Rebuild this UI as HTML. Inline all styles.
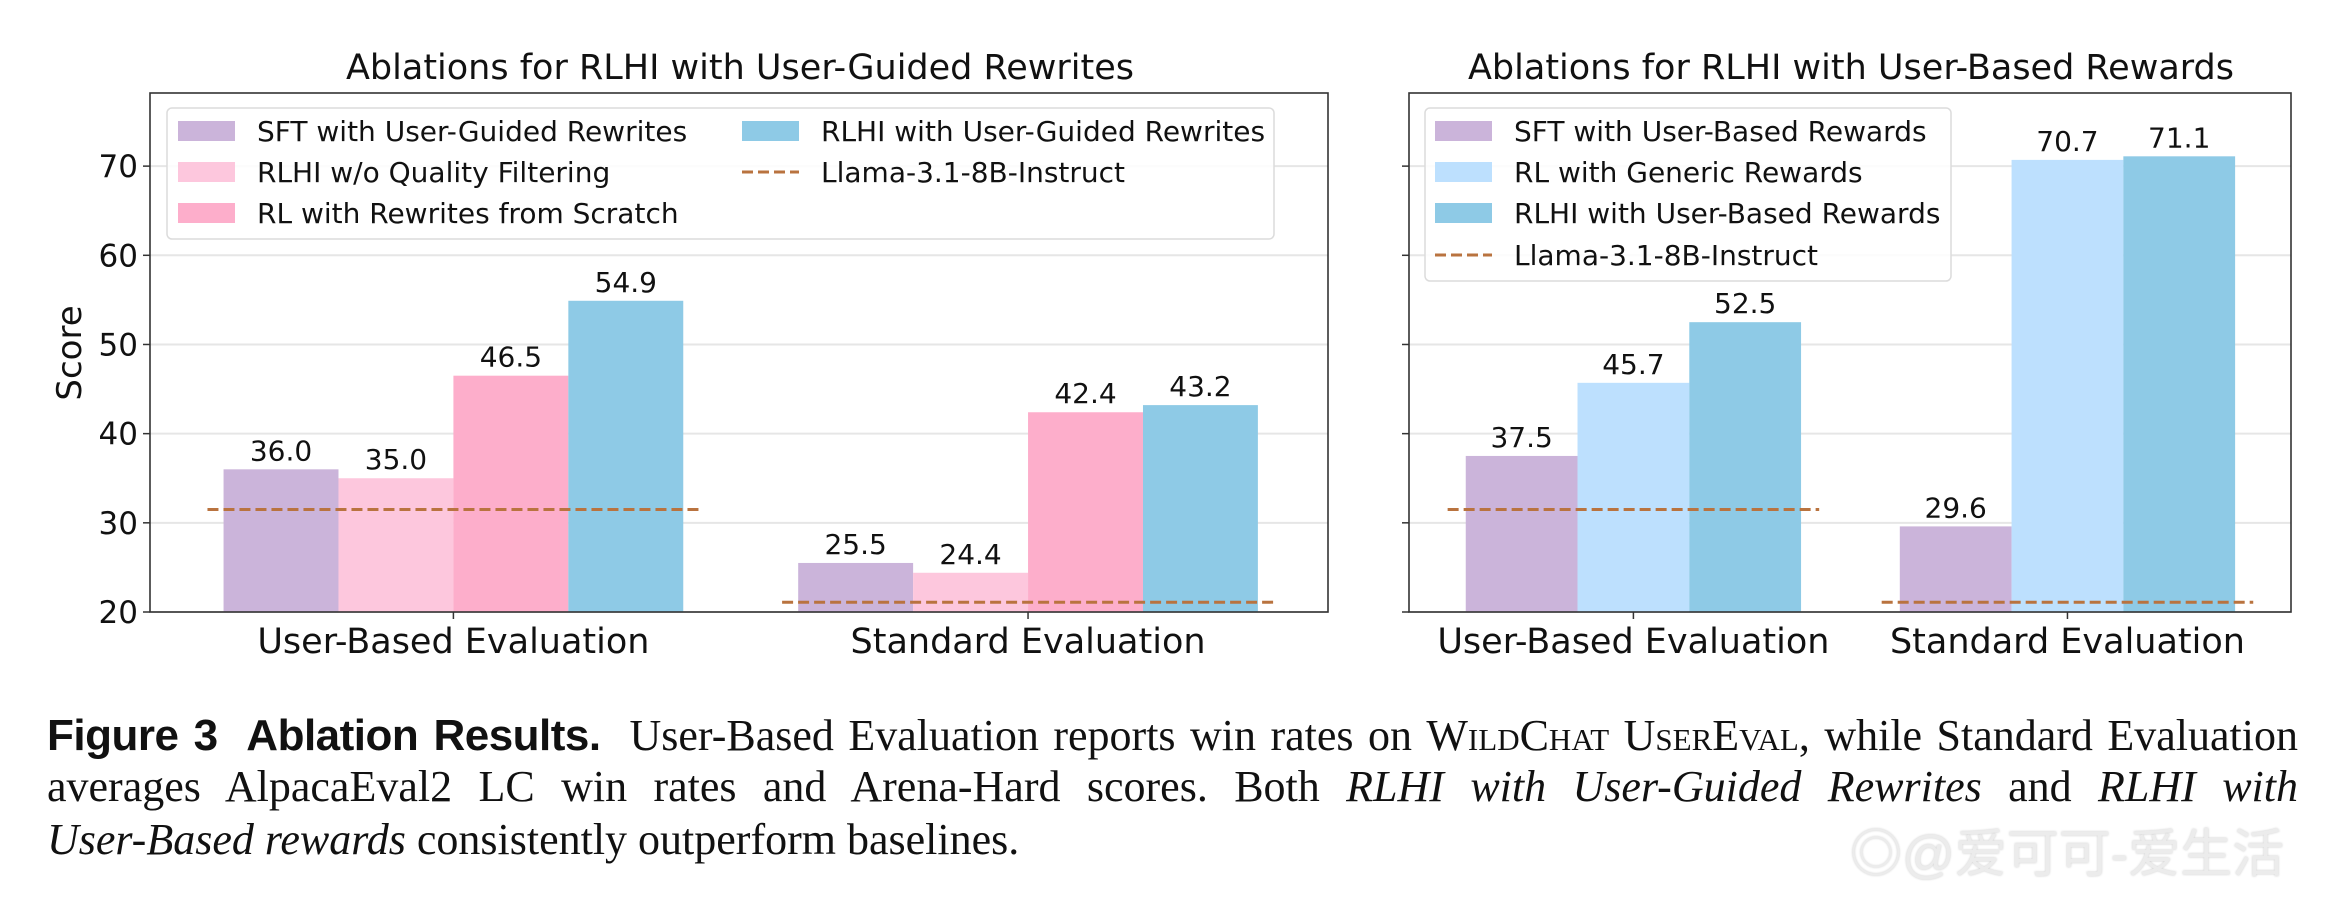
<!DOCTYPE html>
<html><head><meta charset="utf-8"><style>
body{margin:0;background:#fff;width:2350px;height:906px;overflow:hidden;position:relative}
svg text{font-family:"DejaVu Sans","Liberation Sans",sans-serif;fill:#111}
.cap{position:absolute;left:47px;width:2251px;font-family:"Liberation Serif",serif;font-size:44px;line-height:52px;color:#111;white-space:nowrap}
.j{text-align:justify;text-align-last:justify;white-space:normal}
.cap b{font-family:"Liberation Sans",sans-serif;font-weight:bold;letter-spacing:-0.5px;font-size:44px}
.sc{font-variant:small-caps}
#wm{position:absolute;left:1850px;top:812px;font-family:"Liberation Sans","Noto Sans CJK SC",sans-serif;font-size:52px;color:#ececec;text-shadow:0 0 2px #c8c8c8}
</style></head><body>
<svg id="chart" width="2350" height="700" viewBox="0 0 2350 700" xmlns="http://www.w3.org/2000/svg" style="position:absolute;left:0;top:0"></svg>
<div>
<div class="cap j" style="top:710px"><b>Figure 3&nbsp; Ablation Results.</b>&nbsp; User-Based Evaluation reports win rates on <span class="sc">WildChat UserEval</span>, while Standard Evaluation</div>
<div class="cap j" style="top:761px">averages AlpacaEval2 LC win rates and Arena-Hard scores. Both <i>RLHI with User-Guided Rewrites</i> and <i>RLHI with</i></div>
<div class="cap" style="top:814px"><i>User-Based rewards</i> consistently outperform baselines.</div>
</div>
<div id="wm">◎@爱可可-爱生活</div>
<script>
const categories = ["User-Based Evaluation", "Standard Evaluation"];
const leftSeriesNames = ["SFT with User-Guided Rewrites", "RLHI w/o Quality Filtering", "RL with Rewrites from Scratch", "RLHI with User-Guided Rewrites"];
const leftSFT = [36.0, 25.5];
const leftNoFilter = [35.0, 24.4];
const leftScratch = [46.5, 42.4];
const leftRLHI = [54.9, 43.2];
const leftBaseline = [31.5, 21.1];
const rightSeriesNames = ["SFT with User-Based Rewards", "RL with Generic Rewards", "RLHI with User-Based Rewards"];
const rightSFT = [37.5, 29.6];
const rightGeneric = [45.7, 70.7];
const rightRLHI = [52.5, 71.1];
const rightBaseline = [31.5, 21.1];
const yTicks = [20, 30, 40, 50, 60, 70];
const baselineName = "Llama-3.1-8B-Instruct";

const NS = "http://www.w3.org/2000/svg";
const svg = document.getElementById("chart");
function mk(tag, attrs, parent, txt){
  const e = document.createElementNS(NS, tag);
  for (const k in attrs) e.setAttribute(k, attrs[k]);
  if (txt !== undefined) e.textContent = txt;
  (parent || svg).appendChild(e);
  return e;
}
const DASH = "#b9733f";

function panel(cfg){
  const g = mk("g", {});
  
  
  const y = v => cfg.bottom - (v - 20) / (78.2 - 20) * (cfg.bottom - cfg.top);
  const x = v => cfg.left + (v - cfg.xmin) / (cfg.xmax - cfg.xmin) * (cfg.right - cfg.left);
  yTicks.forEach(t => {
    const gl = mk("line", {x1: cfg.left, x2: cfg.right, y1: y(t), y2: y(t), stroke: "#e6e6e6", "stroke-width": 2}, g);
    
    
    const tk = mk("line", {x1: cfg.left - 7, x2: cfg.left, y1: y(t), y2: y(t), stroke: "#333", "stroke-width": 1.5}, g);
    
    
    if (cfg.labels) {
      const tl = mk("text", {x: cfg.left - 12, y: y(t) + 11, "text-anchor": "end", "font-size": 31}, g, String(t));
      
      
    }
  });
  const n = cfg.series.length;
  cfg.series.forEach((s, si) => {
    s.forEach((v, ci) => {
      const xc = ci + (si - (n - 1) / 2) * cfg.bw;
      const x0 = x(xc - cfg.bw / 2), x1 = x(xc + cfg.bw / 2);
      const r = mk("rect", {x: x0, y: y(v), width: x1 - x0, height: y(20) - y(v), fill: cfg.colors[si]}, g);
      
      
      const lb = mk("text", {x: (x0 + x1) / 2, y: y(v) - 9, "text-anchor": "middle", "font-size": 28}, g, v.toFixed(1));
      
      
    });
  });
  cfg.baseline.forEach((v, ci) => {
    const l = mk("line", {x1: x(ci - 0.428), x2: x(ci + 0.428), y1: y(v), y2: y(v), stroke: DASH, "stroke-width": 3, "stroke-dasharray": "11,5"}, g);
    
    
  });
  const fr = mk("rect", {x: cfg.left, y: cfg.top, width: cfg.right - cfg.left, height: cfg.bottom - cfg.top, fill: "none", stroke: "#333", "stroke-width": 1.6}, g);
  
  
  categories.forEach((c, ci) => {
    const tk = mk("line", {x1: x(ci), x2: x(ci), y1: cfg.bottom, y2: cfg.bottom + 7, stroke: "#333", "stroke-width": 1.5}, g);
    
    
    const t = mk("text", {x: x(ci), y: cfg.bottom + 41, "text-anchor": "middle", "font-size": 35}, g, c);
    
    
  });
  const ti = mk("text", {x: cfg.titleX, y: 79, "text-anchor": "middle", "font-size": 35}, g, cfg.title);
  
  
  const L = cfg.legend;
  const lg = mk("g", {}, g);
  
  
  mk("rect", {x: L.x, y: L.y, width: L.w, height: L.h, rx: 5, fill: "rgba(255,255,255,0.85)", stroke: "#dcdcdc", "stroke-width": 1.5}, lg);
  L.items.forEach(it => {
    const eg = mk("g", {}, lg);
    
    
    if (it.color) mk("rect", {x: it.px, y: it.cy - 10, width: 57, height: 20, fill: it.color}, eg);
    else mk("line", {x1: it.px, x2: it.px + 57, y1: it.cy, y2: it.cy, stroke: DASH, "stroke-width": 3, "stroke-dasharray": "11,5"}, eg);
    mk("text", {x: it.px + 79, y: it.cy + 10, "font-size": 28}, eg, it.label);
  });
}

const cL = ["#cbb4da", "#fdc7dd", "#fdaecb", "#8ecae6"];
panel({
  name: "left-chart", left: 150, right: 1328, top: 93, bottom: 612, xmin: -0.528, xmax: 1.522, bw: 0.2,
  labels: true, series: [leftSFT, leftNoFilter, leftScratch, leftRLHI], colors: cL,
  short: ["sft", "no-filter", "scratch", "rlhi"], baseline: leftBaseline,
  title: "Ablations for RLHI with User-Guided Rewrites", titleX: 740,
  legend: {x: 167, y: 108, w: 1107, h: 131, items: [
    {px: 178, cy: 131, color: cL[0], label: leftSeriesNames[0]},
    {px: 178, cy: 172, color: cL[1], label: leftSeriesNames[1]},
    {px: 178, cy: 213, color: cL[2], label: leftSeriesNames[2]},
    {px: 742, cy: 131, color: cL[3], label: leftSeriesNames[3]},
    {px: 742, cy: 172, color: null, label: baselineName}]}
});
const cR = ["#cbb4da", "#bde0fe", "#8ecae6"];
panel({
  name: "right-chart", left: 1409, right: 2291, top: 93, bottom: 612, xmin: -0.517, xmax: 1.515, bw: 0.2575,
  labels: false, series: [rightSFT, rightGeneric, rightRLHI], colors: cR,
  short: ["sft", "generic", "rlhi"], baseline: rightBaseline,
  title: "Ablations for RLHI with User-Based Rewards", titleX: 1851,
  legend: {x: 1425, y: 108, w: 526, h: 173, items: [
    {px: 1435, cy: 131, color: cR[0], label: rightSeriesNames[0]},
    {px: 1435, cy: 172, color: cR[1], label: rightSeriesNames[1]},
    {px: 1435, cy: 213, color: cR[2], label: rightSeriesNames[2]},
    {px: 1435, cy: 255, color: null, label: baselineName}]}
});
const yl = mk("text", {x: 0, y: 0, transform: "translate(81,353) rotate(-90)", "text-anchor": "middle", "font-size": 34}, svg, "Score");


</script>
</body></html>
